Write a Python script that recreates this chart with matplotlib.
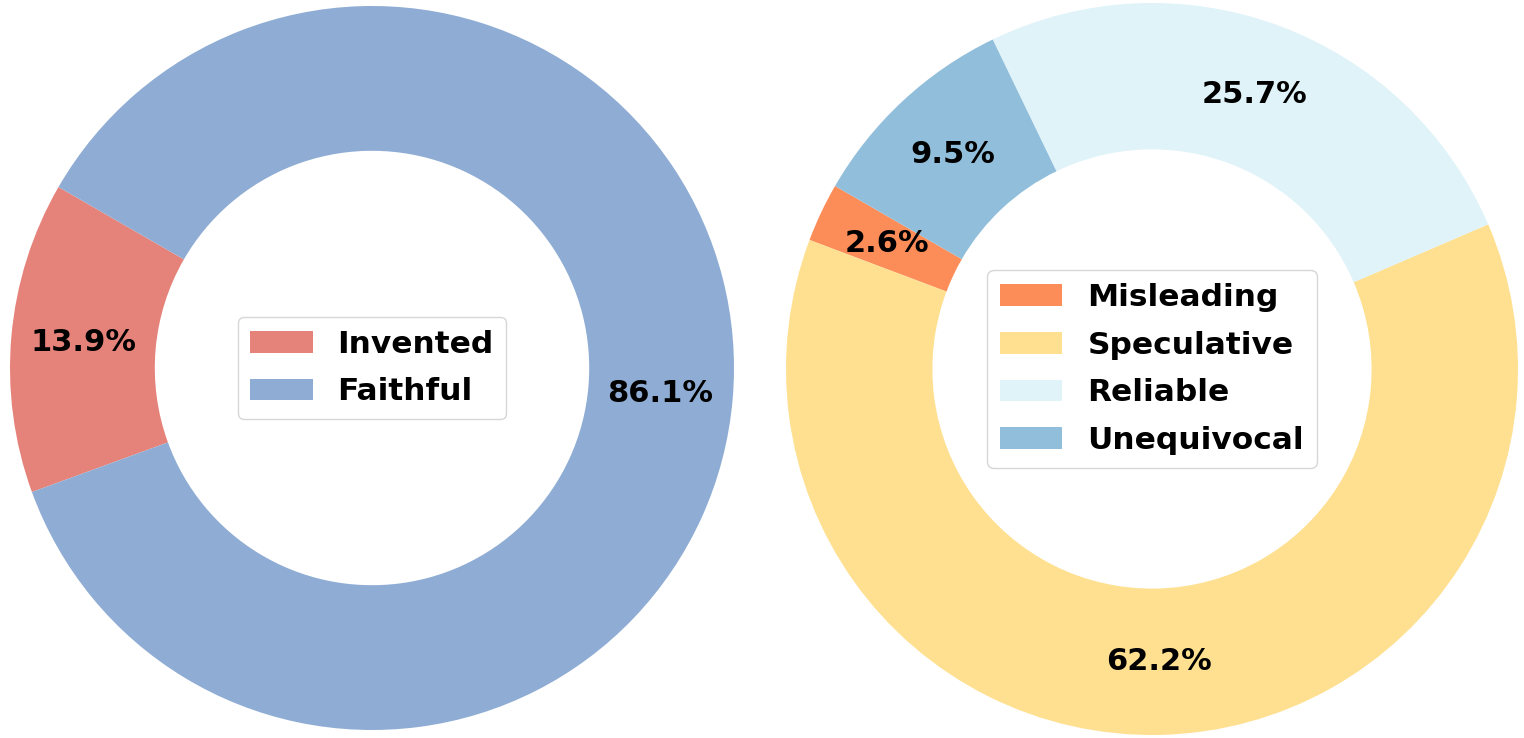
import matplotlib
matplotlib.use("Agg")
import matplotlib.pyplot as plt

# left donut
left_labels = ["Invented", "Faithful"]
left_values = [13.9, 86.1]
left_colors = ["#E5837B", "#8FADD4"]

# right donut
right_labels = ["Misleading", "Speculative", "Reliable", "Unequivocal"]
right_values = [2.6, 62.2, 25.7, 9.5]
right_colors = ["#FC8D59", "#FEE090", "#E0F3F8", "#91BFDB"]

W, H = 1524, 738
fig = plt.figure(figsize=(W / 100, H / 100), dpi=100)

fs = 22


def donut(rect, values, labels, colors):
    ax = fig.add_axes([rect[0] / W, rect[1] / H, rect[2] / W, rect[3] / H])
    wedges, texts, autotexts = ax.pie(values, colors=colors, startangle=150,
                                      autopct="%1.1f%%", pctdistance=0.8,
                                      wedgeprops=dict(width=0.4, linewidth=0),
                                      textprops=dict(fontsize=fs, fontweight="bold"))
    ax.set_xlim(-1, 1)
    ax.set_ylim(-1, 1)
    ax.set_aspect("equal")
    ax.legend(wedges, labels, loc="center", labelspacing=0.6,
              prop=dict(size=22.5, weight="bold"))
    return ax


donut((10, 8, 724, 724), left_values, left_labels, left_colors)
donut((786, 3, 732, 732), right_values, right_labels, right_colors)

fig.savefig("out.png", dpi=100)
